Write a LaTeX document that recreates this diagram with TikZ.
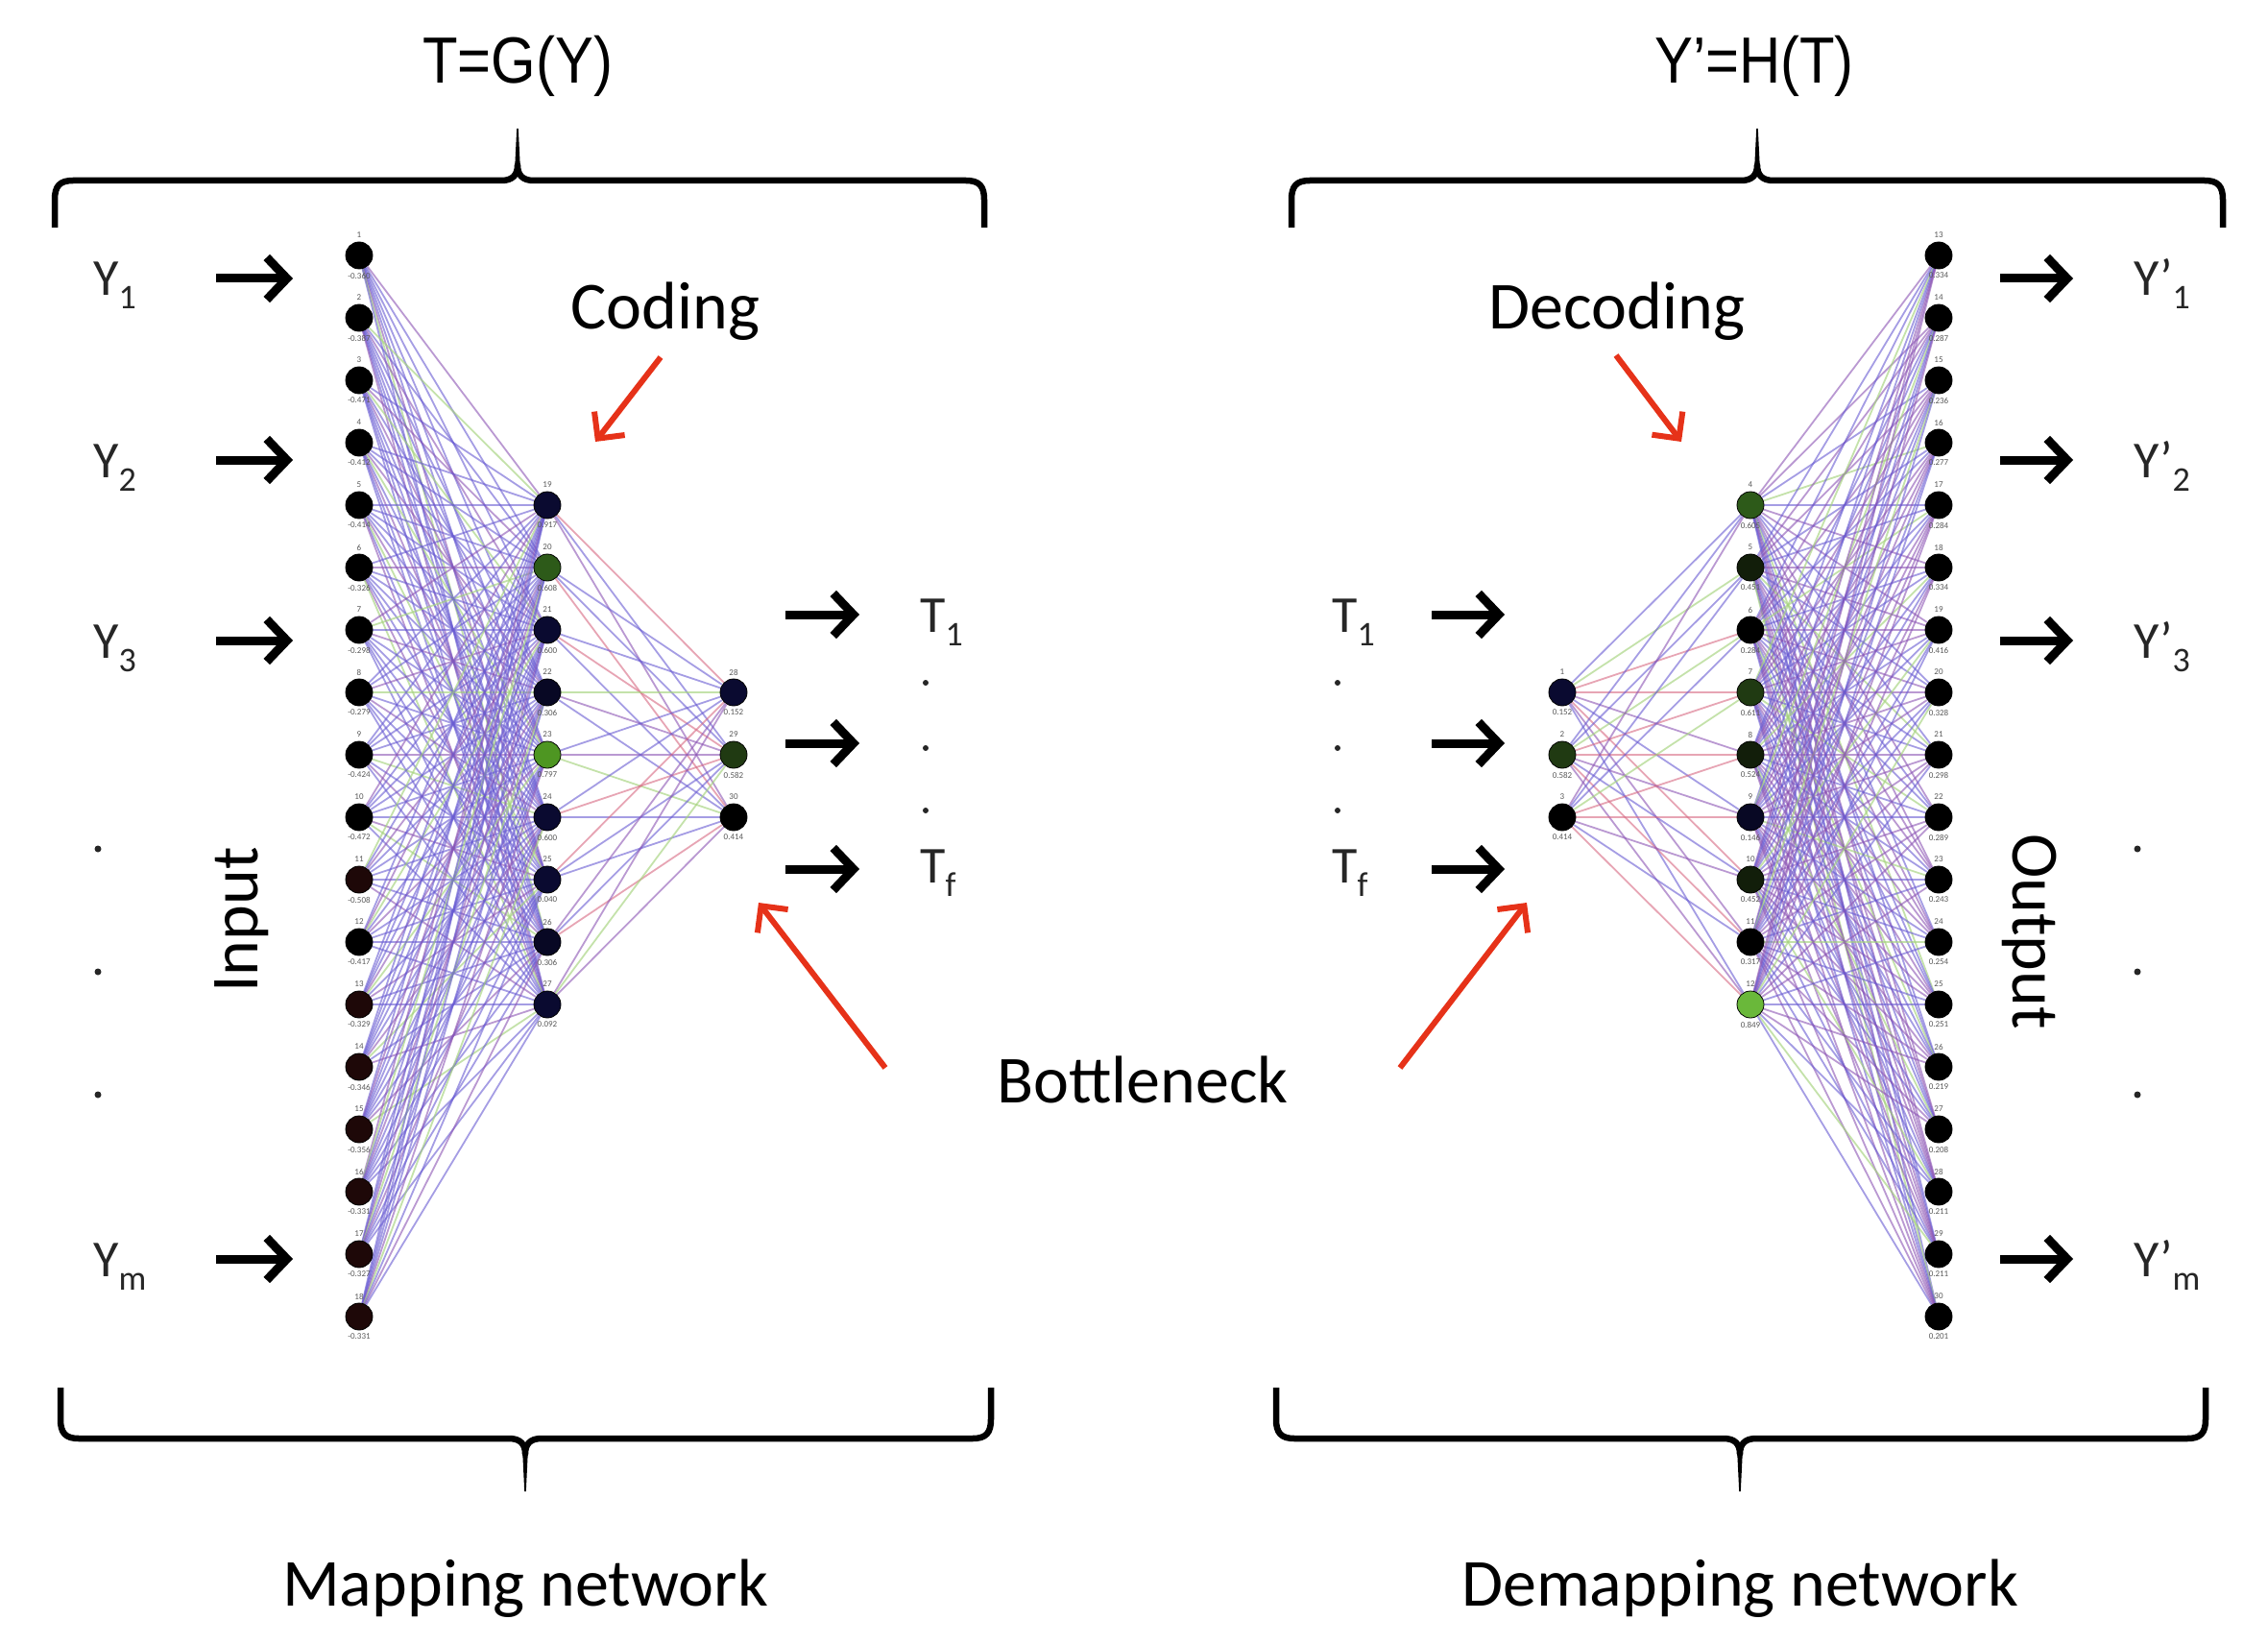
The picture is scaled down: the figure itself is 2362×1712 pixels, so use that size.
\documentclass[tikz,border=0pt]{standalone}
\usepackage{fontspec}
\setmainfont{Carlito}
\newfontfamily\headfont[FakeStretch=0.88]{Liberation Sans}
\usetikzlibrary{arrows.meta}
\pgfdeclarelayer{bg}
\pgfsetlayers{bg,main}

\definecolor{navyA}{RGB}{10,10,48}
\definecolor{navyB}{RGB}{8,8,36}
\definecolor{greenA}{RGB}{45,90,25}
\definecolor{greenB}{RGB}{78,150,34}
\definecolor{greenC}{RGB}{32,58,18}
\definecolor{greenD}{RGB}{106,184,58}
\definecolor{greenE}{RGB}{18,30,10}
\definecolor{brownA}{RGB}{30,8,8}
\definecolor{arrowred}{RGB}{230,50,25}
\definecolor{eblue}{RGB}{105,92,210}
\definecolor{epurple}{RGB}{140,85,180}
\definecolor{ered}{RGB}{215,105,130}
\definecolor{egreen}{RGB}{165,210,125}

\newcommand\lowidx[1]{\raisebox{-14pt}{\fontsize{36}{36}\selectfont #1}}
\newcommand\mybraceT[3]{%
 \draw[bracepen] (#1,237) -- (#1,208) .. controls (#1,194) and ({#1+5},188) .. ({#1+19},188) -- ({#2-17},188) .. controls ({#2-5},188) and (#2,182) .. (#2,172) .. controls (#2,182) and ({#2+5},188) .. ({#2+17},188) -- ({#3-19},188) .. controls ({#3-5},188) and (#3,194) .. (#3,208) -- (#3,237);
 \fill ({#2-3},178) -- ({#2-0.8},134) -- ({#2+0.8},134) -- ({#2+3},178) -- cycle;}
\newcommand\mybraceB[3]{%
 \draw[bracepen] (#1,1445) -- (#1,1478) .. controls (#1,1492) and ({#1+5},1498) .. ({#1+19},1498) -- ({#2-17},1498) .. controls ({#2-5},1498) and (#2,1504) .. (#2,1514) .. controls (#2,1504) and ({#2+5},1498) .. ({#2+17},1498) -- ({#3-19},1498) .. controls ({#3-5},1498) and (#3,1492) .. (#3,1478) -- (#3,1445);
 \fill ({#2-3},1508) -- ({#2-0.8},1553) -- ({#2+0.8},1553) -- ({#2+3},1508) -- cycle;}

\begin{document}
\begin{tikzpicture}[x=1pt,y=-1pt,
  neuron/.style={circle, draw=black, line width=0.8pt, minimum size=28pt, inner sep=0pt},
  tinylbl/.style={font=\fontsize{9}{9}\selectfont, text=black!65, inner sep=0pt},
  lbl/.style={font=\fontsize{54}{60}\selectfont, text=black!85, inner sep=0pt},
  biglbl/.style={font=\fontsize{70}{80}\selectfont, inner sep=0pt},
  headlbl/.style={font=\headfont\fontsize{68}{76}\selectfont, inner sep=0pt},
  blackarrow/.style={line width=9pt, -{Straight Barb[length=21pt,width=44pt]}},
  redarrow/.style={draw=arrowred, line width=6pt, -{Straight Barb[length=20pt,width=40pt]}},
  bracepen/.style={line width=6.5pt, line join=round, line cap=butt},
  dotmark/.style={fill=black!85},
  eb/.style={draw=eblue, draw opacity=.6, line width=1.8pt},
  ep/.style={draw=epurple, draw opacity=.6, line width=1.8pt},
  er/.style={draw=ered, draw opacity=.6, line width=1.8pt},
  eg/.style={draw=egreen, draw opacity=.65, line width=1.8pt},
  eA0/.style={eb}, eA1/.style={eb}, eA2/.style={ep}, eA3/.style={eb}, eA4/.style={eb},
  eA5/.style={eb}, eA6/.style={eg}, eA7/.style={eb}, eA8/.style={ep},
  eB0/.style={eb}, eB1/.style={er}, eB2/.style={ep}, eB3/.style={eb}, eB4/.style={eg},
  eB5/.style={eb}, eB6/.style={ep}, eB7/.style={er}, eB8/.style={eb},
  eC0/.style={eb}, eC1/.style={er}, eC2/.style={ep}, eC3/.style={er}, eC4/.style={eb},
  eC5/.style={eg}, eC6/.style={er}, eC7/.style={eb}, eC8/.style={ep},
  eD0/.style={eb}, eD1/.style={ep}, eD2/.style={eb}, eD3/.style={ep}, eD4/.style={eg},
  eD5/.style={ep}, eD6/.style={eb}, eD7/.style={ep}, eD8/.style={eb}
]
\useasboundingbox (0,0) rectangle (2362,1712);

% ---------------- neurons: left (mapping) ----------------
\foreach \k/\v/\col [evaluate=\k as \yy using {266+65*(\k-1)}] in
 {1/-0.360/black,2/-0.387/black,3/-0.471/black,4/-0.412/black,5/-0.414/black,
  6/-0.326/black,7/-0.298/black,8/-0.279/black,9/-0.424/black,10/-0.472/black,
  11/-0.508/brownA,12/-0.417/black,13/-0.329/brownA,14/-0.346/brownA,15/-0.356/brownA,
  16/-0.331/brownA,17/-0.327/brownA,18/-0.331/brownA}
{
  \node[neuron, fill=\col] (Li\k) at (374,\yy) {};
  \node[tinylbl] (Li\k-id) at (374,\yy-21) {\k};
  \node[tinylbl] (Li\k-v) at (374,\yy+21) {\v};
}
\foreach \k/\n/\v/\col [evaluate=\k as \yy using {266+65*(\k+3)}] in
 {1/19/0.917/navyA,2/20/0.608/greenA,3/21/0.600/navyA,4/22/0.306/navyB,5/23/0.797/greenB,
  6/24/0.600/navyA,7/25/0.040/navyA,8/26/0.306/navyB,9/27/0.092/navyA}
{
  \node[neuron, fill=\col] (Lh\k) at (570,\yy) {};
  \node[tinylbl] (Lh\k-id) at (570,\yy-21) {\n};
  \node[tinylbl] (Lh\k-v) at (570,\yy+21) {\v};
}
\foreach \k/\n/\v/\col [evaluate=\k as \yy using {266+65*(\k+6)}] in
 {1/28/0.152/navyA,2/29/0.582/greenC,3/30/0.414/black}
{
  \node[neuron, fill=\col] (Lb\k) at (764,\yy) {};
  \node[tinylbl] (Lb\k-id) at (764,\yy-21) {\n};
  \node[tinylbl] (Lb\k-v) at (764,\yy+21) {\v};
}

% ---------------- neurons: right (demapping) ----------------
\foreach \k/\v/\col [evaluate=\k as \yy using {266+65*(\k+6)}] in
 {1/0.152/navyA,2/0.582/greenC,3/0.414/black}
{
  \node[neuron, fill=\col] (Rb\k) at (1627,\yy) {};
  \node[tinylbl] (Rb\k-id) at (1627,\yy-21) {\k};
  \node[tinylbl] (Rb\k-v) at (1627,\yy+21) {\v};
}
\foreach \k/\n/\v/\col [evaluate=\k as \yy using {266+65*(\k+3)}] in
 {1/4/0.605/greenA,2/5/0.451/greenE,3/6/0.284/black,4/7/0.611/greenC,5/8/0.524/greenE,
  6/9/0.146/navyB,7/10/0.452/greenE,8/11/0.317/black,9/12/0.849/greenD}
{
  \node[neuron, fill=\col] (Rh\k) at (1823,\yy) {};
  \node[tinylbl] (Rh\k-id) at (1823,\yy-21) {\n};
  \node[tinylbl] (Rh\k-v) at (1823,\yy+21) {\v};
}
\foreach \k/\n/\v [evaluate=\k as \yy using {266+65*(\k-1)}] in
 {1/13/0.334,2/14/0.287,3/15/0.236,4/16/0.277,5/17/0.284,6/18/0.334,7/19/0.416,
  8/20/0.328,9/21/0.298,10/22/0.289,11/23/0.243,12/24/0.254,13/25/0.251,14/26/0.219,
  15/27/0.208,16/28/0.211,17/29/0.211,18/30/0.201}
{
  \node[neuron, fill=black] (Ro\k) at (2019,\yy) {};
  \node[tinylbl] (Ro\k-id) at (2019,\yy-21) {\n};
  \node[tinylbl] (Ro\k-v) at (2019,\yy+21) {\v};
}

% ---------------- connections ----------------
\begin{pgfonlayer}{bg}
\foreach \i in {1,...,18} \foreach \j in {1,...,9} {
  \pgfmathtruncatemacro\c{mod(\i*4+\j*7,9)}
  \draw[eA\c] (Li\i) -- (Lh\j);
}
\foreach \i in {1,...,9} \foreach \j in {1,2,3} {
  \pgfmathtruncatemacro\c{mod(\i*5+\j*2,9)}
  \draw[eB\c] (Lh\i) -- (Lb\j);
}
\foreach \i in {1,2,3} \foreach \j in {1,...,9} {
  \pgfmathtruncatemacro\c{mod(\i*4+\j*5,9)}
  \draw[eC\c] (Rb\i) -- (Rh\j);
}
\foreach \i in {1,...,9} \foreach \j in {1,...,18} {
  \pgfmathtruncatemacro\c{mod(\i*2+\j*5,9)}
  \draw[eD\c] (Rh\i) -- (Ro\j);
}
\end{pgfonlayer}

% ---------------- braces and headings ----------------
\mybraceT{57}{539}{1025}
\mybraceT{1345}{1830}{2315}
\mybraceB{63}{547}{1032}
\mybraceB{1329}{1812}{2297}

\node[headlbl, anchor=base] (Gfun) at (539,87) {T=G(Y)};
\node[headlbl, anchor=base] (Hfun) at (1827,87) {Y’=H(T)};
\node[biglbl, anchor=base] (mapnet) at (547,1672) {Mapping network};
\node[biglbl, anchor=base] (demapnet) at (1812,1672) {Demapping network};

% ---------------- input side labels ----------------
\node[lbl, anchor=base west] (Y1) at (97,308) {Y\lowidx{1}};
\node[lbl, anchor=base west] (Y2) at (97,497) {Y\lowidx{2}};
\node[lbl, anchor=base west] (Y3) at (97,685) {Y\lowidx{3}};
\node[lbl, anchor=base west] (Ym) at (97,1329) {Y\lowidx{m}};
\foreach \yy [count=\n] in {884,1012,1140} \fill[dotmark] (102,\yy) circle (3.5) coordinate (ldot\n);
\node[biglbl, rotate=90] (inputlbl) at (252,958) {Input};

\foreach \n/\yy in {y1/290,y2/479,y3/667,ym/1311} {
  \coordinate (a\n s) at (225,\yy); \coordinate (a\n e) at (305,\yy);
  \draw[blackarrow] (a\n s) -- (a\n e);
}

% ---------------- bottleneck outputs (left) ----------------
\foreach \n/\yy in {t1/640,t2/774,t3/905} {
  \coordinate (b\n s) at (818,\yy); \coordinate (b\n e) at (895,\yy);
  \draw[blackarrow] (b\n s) -- (b\n e);
}
\node[lbl, anchor=base west] (LT1) at (958,658) {T\lowidx{1}};
\node[lbl, anchor=base west] (LTf) at (958,919) {T\lowidx{f}};
\foreach \yy [count=\n] in {711,779,844} \fill[dotmark] (964,\yy) circle (3) coordinate (tdot\n);

% ---------------- bottleneck inputs (right) ----------------
\node[lbl, anchor=base west] (RT1) at (1387,658) {T\lowidx{1}};
\node[lbl, anchor=base west] (RTf) at (1387,919) {T\lowidx{f}};
\foreach \yy [count=\n] in {711,779,844} \fill[dotmark] (1393,\yy) circle (3) coordinate (rdot\n);
\foreach \n/\yy in {t1/640,t2/774,t3/905} {
  \coordinate (c\n s) at (1491,\yy); \coordinate (c\n e) at (1567,\yy);
  \draw[blackarrow] (c\n s) -- (c\n e);
}

% ---------------- output side ----------------
\foreach \n/\yy in {y1/290,y2/479,y3/667,ym/1311} {
  \coordinate (o\n s) at (2083,\yy); \coordinate (o\n e) at (2159,\yy);
  \draw[blackarrow] (o\n s) -- (o\n e);
}
\node[lbl, anchor=base west] (Yp1) at (2222,308) {Y’\lowidx{1}};
\node[lbl, anchor=base west] (Yp2) at (2222,497) {Y’\lowidx{2}};
\node[lbl, anchor=base west] (Yp3) at (2222,685) {Y’\lowidx{3}};
\node[lbl, anchor=base west] (Ypm) at (2222,1329) {Y’\lowidx{m}};
\foreach \yy [count=\n] in {884,1012,1140} \fill[dotmark] (2226,\yy) circle (3.5) coordinate (odot\n);
\node[biglbl, rotate=-90] (outputlbl) at (2114,970) {Output};

% ---------------- annotations ----------------
\node[biglbl] (coding) at (693,324) {Coding};
\node[biglbl] (decoding) at (1684,324) {Decoding};
\node[biglbl, anchor=base] (bottleneck) at (1190,1148) {Bottleneck};

\coordinate (codS) at (688,372);  \coordinate (codE) at (620,460);
\coordinate (decS) at (1683,370); \coordinate (decE) at (1751,460);
\coordinate (bnLS) at (922,1112); \coordinate (bnLE) at (790,940);
\coordinate (bnRS) at (1458,1112); \coordinate (bnRE) at (1590,940);
\draw[redarrow] (codS) -- (codE);
\draw[redarrow] (decS) -- (decE);
\draw[redarrow] (bnLS) -- (bnLE);
\draw[redarrow] (bnRS) -- (bnRE);
\end{tikzpicture}
\end{document}
